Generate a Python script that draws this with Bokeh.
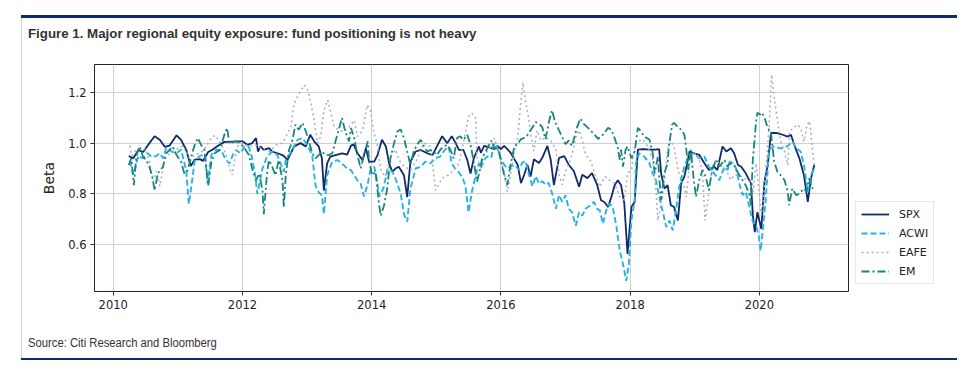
from bokeh.plotting import figure
from bokeh.models import Legend, LegendItem, FixedTicker, Range1d, PrintfTickFormatter, Div
from bokeh.layouts import column
from bokeh.embed import file_html
from bokeh.resources import INLINE

# ---------------- data ----------------
spx_x = [2010.24, 2010.31, 2010.39, 2010.46, 2010.54, 2010.64, 2010.72, 2010.80, 2010.87, 2010.98,
         2011.05, 2011.13, 2011.20, 2011.26, 2011.34, 2011.39, 2011.47, 2011.54, 2011.62, 2011.72,
         2011.80, 2011.90, 2012.00, 2012.08, 2012.15, 2012.21, 2012.24, 2012.28, 2012.33, 2012.41,
         2012.46, 2012.54, 2012.62, 2012.70, 2012.80, 2012.90, 2012.98, 2013.05, 2013.11, 2013.18,
         2013.23, 2013.26, 2013.31, 2013.36, 2013.44, 2013.54, 2013.62, 2013.68, 2013.72, 2013.78,
         2013.86, 2013.91, 2013.96, 2014.04, 2014.09, 2014.16, 2014.22, 2014.27, 2014.32, 2014.37,
         2014.42, 2014.50, 2014.55, 2014.60, 2014.68, 2014.76, 2014.86, 2014.94, 2015.01, 2015.09,
         2015.17, 2015.24, 2015.30, 2015.35, 2015.42, 2015.48, 2015.53, 2015.58, 2015.66, 2015.69,
         2015.74, 2015.82, 2015.90, 2015.95, 2016.00, 2016.05, 2016.10, 2016.15, 2016.21, 2016.26,
         2016.31, 2016.36, 2016.41, 2016.46, 2016.51, 2016.59, 2016.64, 2016.72, 2016.77, 2016.82,
         2016.90, 2016.98, 2017.05, 2017.13, 2017.21, 2017.26, 2017.34, 2017.41, 2017.49, 2017.55,
         2017.60, 2017.66, 2017.71, 2017.76, 2017.81, 2017.86, 2017.91, 2017.96, 2018.02, 2018.07,
         2018.12, 2018.20, 2018.30, 2018.40, 2018.45, 2018.48, 2018.53, 2018.58, 2018.63, 2018.68,
         2018.74, 2018.79, 2018.84, 2018.92, 2018.99, 2019.07, 2019.15, 2019.22, 2019.30, 2019.35,
         2019.43, 2019.49, 2019.56, 2019.61, 2019.67, 2019.72, 2019.79, 2019.87, 2019.90, 2019.93,
         2019.97, 2020.03, 2020.08, 2020.13, 2020.18, 2020.26, 2020.36, 2020.44, 2020.49, 2020.54,
         2020.62, 2020.69, 2020.75, 2020.80, 2020.85]
spx_y = [0.949, 0.940, 0.973, 0.964, 0.993, 1.027, 1.013, 0.985, 0.990, 1.031,
         1.013, 0.973, 0.910, 0.935, 0.937, 0.930, 0.965, 0.975, 0.990, 1.005,
         1.005, 1.007, 1.007, 0.993, 1.000, 1.020, 0.967, 0.987, 0.973, 0.980,
         0.967, 0.960, 0.953, 0.935, 0.987, 1.000, 0.987, 1.033, 1.007, 0.987,
         0.940, 0.813, 0.920, 0.947, 0.953, 0.960, 0.955, 0.990, 0.995, 0.960,
         0.933, 0.980, 0.927, 0.927, 0.953, 1.013, 0.987, 0.920, 0.887, 0.900,
         0.907, 0.873, 0.787, 0.927, 0.967, 0.973, 0.960, 0.953, 0.987, 1.027,
         1.000, 1.027, 1.000, 0.973, 0.973, 0.933, 0.880, 0.940, 0.987, 0.962,
         0.989, 0.983, 0.976, 0.989, 0.976, 0.989, 0.976, 0.962, 0.936, 0.915,
         0.842, 0.875, 0.915, 0.868, 0.936, 0.922, 0.942, 0.989, 0.936, 0.835,
         0.942, 0.949, 0.915, 0.889, 0.828, 0.875, 0.862, 0.882, 0.835, 0.775,
         0.768, 0.748, 0.788, 0.834, 0.854, 0.834, 0.762, 0.563, 0.748, 0.768,
         0.974, 0.976, 0.974, 0.974, 0.976, 0.881, 0.821, 0.834, 0.755, 0.748,
         0.695, 0.841, 0.868, 0.967, 0.960, 0.954, 0.921, 0.894, 0.907, 0.894,
         0.987, 0.967, 0.980, 0.960, 0.914, 0.907, 0.881, 0.841, 0.715, 0.649,
         0.728, 0.662, 0.848, 0.914, 1.040, 1.040, 1.033, 1.026, 1.033, 0.993,
         0.940, 0.874, 0.768, 0.861, 0.914]

acwi_x = [2010.26, 2010.31, 2010.39, 2010.46, 2010.54, 2010.59, 2010.67, 2010.72, 2010.77, 2010.82,
          2010.90, 2010.98, 2011.05, 2011.13, 2011.17, 2011.21, 2011.26, 2011.34, 2011.42, 2011.46,
          2011.52, 2011.60, 2011.68, 2011.74, 2011.80, 2011.85, 2011.90, 2011.97, 2012.03, 2012.10,
          2012.15, 2012.20, 2012.23, 2012.31, 2012.38, 2012.46, 2012.54, 2012.59, 2012.64, 2012.67,
          2012.72, 2012.77, 2012.85, 2012.93, 2013.00, 2013.08, 2013.13, 2013.18, 2013.23, 2013.26,
          2013.31, 2013.39, 2013.47, 2013.54, 2013.62, 2013.68, 2013.73, 2013.78, 2013.83, 2013.88,
          2013.94, 2013.98, 2014.04, 2014.09, 2014.12, 2014.18, 2014.25, 2014.32, 2014.37, 2014.45,
          2014.50, 2014.55, 2014.60, 2014.68, 2014.76, 2014.83, 2014.91, 2014.98, 2015.06, 2015.13,
          2015.19, 2015.24, 2015.29, 2015.34, 2015.40, 2015.45, 2015.50, 2015.55, 2015.61, 2015.66,
          2015.69, 2015.74, 2015.79, 2015.85, 2015.90, 2015.95, 2016.00, 2016.05, 2016.10, 2016.15,
          2016.21, 2016.28, 2016.33, 2016.38, 2016.44, 2016.49, 2016.54, 2016.59, 2016.64, 2016.69,
          2016.74, 2016.80, 2016.85, 2016.90, 2016.95, 2017.00, 2017.05, 2017.10, 2017.16, 2017.21,
          2017.26, 2017.31, 2017.39, 2017.44, 2017.49, 2017.53, 2017.58, 2017.63, 2017.68, 2017.73,
          2017.79, 2017.84, 2017.89, 2017.94, 2017.98, 2018.02, 2018.07, 2018.09, 2018.14, 2018.22,
          2018.30, 2018.35, 2018.40, 2018.45, 2018.50, 2018.56, 2018.61, 2018.66, 2018.71, 2018.76,
          2018.84, 2018.91, 2018.99, 2019.07, 2019.15, 2019.22, 2019.30, 2019.38, 2019.46, 2019.51,
          2019.54, 2019.59, 2019.64, 2019.69, 2019.74, 2019.79, 2019.85, 2019.90, 2019.95, 2019.99,
          2020.02, 2020.05, 2020.10, 2020.15, 2020.23, 2020.31, 2020.39, 2020.46, 2020.51, 2020.57,
          2020.64, 2020.69, 2020.75, 2020.80, 2020.85]
acwi_y = [0.930, 0.875, 0.950, 0.940, 0.960, 0.945, 0.950, 0.960, 0.940, 0.980,
          0.967, 0.960, 0.975, 0.890, 0.760, 0.830, 0.930, 0.950, 0.955, 0.840,
          0.955, 0.975, 0.967, 0.935, 0.920, 0.953, 0.973, 0.960, 0.987, 0.985,
          0.940, 0.870, 0.800, 0.900, 0.947, 0.967, 0.953, 0.920, 0.887, 0.933,
          0.953, 0.973, 1.013, 1.020, 0.993, 0.953, 0.833, 0.807, 0.793, 0.720,
          0.873, 0.927, 0.933, 0.920, 0.900, 0.893, 0.873, 0.853, 0.840, 0.790,
          0.840, 0.893, 0.907, 0.840, 0.790, 0.820, 0.900, 0.887, 0.860, 0.800,
          0.720, 0.690, 0.820, 0.900, 0.907, 0.927, 0.920, 0.940, 0.947, 0.973,
          0.987, 0.920, 0.900, 0.887, 0.867, 0.833, 0.727, 0.807, 0.873, 0.920,
          0.900, 0.935, 0.948, 0.942, 1.000, 0.975, 0.940, 0.915, 0.900, 0.908,
          0.915, 0.895, 0.922, 0.930, 0.870, 0.830, 0.870, 0.840, 0.850, 0.836,
          0.843, 0.796, 0.741, 0.795, 0.768, 0.795, 0.741, 0.728, 0.674, 0.728,
          0.714, 0.741, 0.755, 0.768, 0.741, 0.735, 0.682, 0.735, 0.762, 0.748,
          0.669, 0.576, 0.523, 0.457, 0.523, 0.695, 0.775, 0.920, 0.960, 0.947,
          0.920, 0.881, 0.854, 0.788, 0.735, 0.669, 0.695, 0.656, 0.735, 0.828,
          0.907, 0.954, 0.960, 0.940, 0.947, 0.907, 0.881, 0.854, 0.907, 0.894,
          0.927, 0.920, 0.900, 0.841, 0.795, 0.808, 0.742, 0.689, 0.675, 0.636,
          0.576, 0.649, 0.781, 0.974, 0.987, 0.980, 0.980, 0.993, 1.007, 0.980,
          0.967, 0.914, 0.808, 0.874, 0.900]

eafe_x = [2010.26, 2010.29, 2010.34, 2010.41, 2010.49, 2010.56, 2010.62, 2010.67, 2010.72, 2010.80,
          2010.88, 2010.98, 2011.08, 2011.18, 2011.28, 2011.40, 2011.53, 2011.58, 2011.66, 2011.74,
          2011.79, 2011.84, 2011.92, 2012.00, 2012.10, 2012.21, 2012.31, 2012.42, 2012.52, 2012.62,
          2012.75, 2012.80, 2012.88, 2012.96, 2013.01, 2013.06, 2013.11, 2013.16, 2013.21, 2013.26,
          2013.32, 2013.37, 2013.42, 2013.50, 2013.57, 2013.65, 2013.73, 2013.78, 2013.86, 2013.93,
          2013.98, 2014.03, 2014.09, 2014.14, 2014.21, 2014.29, 2014.37, 2014.42, 2014.50, 2014.60,
          2014.70, 2014.76, 2014.81, 2014.91, 2014.99, 2015.04, 2015.12, 2015.19, 2015.27, 2015.35,
          2015.42, 2015.50, 2015.55, 2015.61, 2015.63, 2015.69, 2015.74, 2015.82, 2015.90, 2015.95,
          2016.00, 2016.05, 2016.10, 2016.15, 2016.21, 2016.26, 2016.31, 2016.34, 2016.38, 2016.42,
          2016.46, 2016.51, 2016.56, 2016.62, 2016.69, 2016.77, 2016.85, 2016.90, 2016.95, 2017.00,
          2017.05, 2017.10, 2017.16, 2017.21, 2017.26, 2017.31, 2017.39, 2017.46, 2017.53, 2017.61,
          2017.68, 2017.76, 2017.84, 2017.91, 2017.96, 2018.02, 2018.07, 2018.12, 2018.20, 2018.27,
          2018.35, 2018.40, 2018.43, 2018.48, 2018.53, 2018.58, 2018.63, 2018.68, 2018.74, 2018.79,
          2018.84, 2018.87, 2018.91, 2018.96, 2019.02, 2019.07, 2019.12, 2019.16, 2019.21, 2019.27,
          2019.33, 2019.38, 2019.46, 2019.51, 2019.56, 2019.61, 2019.69, 2019.77, 2019.85, 2019.90,
          2019.95, 2020.00, 2020.03, 2020.06, 2020.10, 2020.15, 2020.19, 2020.23, 2020.28, 2020.33,
          2020.39, 2020.44, 2020.47, 2020.52, 2020.59, 2020.64, 2020.69, 2020.74, 2020.78, 2020.82,
          2020.85]
eafe_y = [0.990, 0.950, 0.970, 0.940, 0.980, 0.930, 0.850, 0.890, 0.830, 0.940,
          0.960, 0.975, 0.990, 0.940, 0.955, 0.970, 1.025, 1.030, 1.000, 0.960,
          0.910, 0.874, 0.987, 1.000, 0.987, 0.993, 0.974, 0.967, 0.993, 1.000,
          1.064, 1.157, 1.197, 1.229, 1.210, 1.157, 1.090, 1.000, 1.026, 1.130,
          1.170, 1.117, 1.064, 1.050, 1.045, 1.064, 1.090, 1.026, 1.050, 1.150,
          1.130, 1.050, 0.987, 0.895, 0.868, 0.947, 0.974, 0.934, 0.908, 0.895,
          0.934, 0.974, 1.000, 0.987, 0.814, 0.840, 0.868, 0.874, 0.895, 0.920,
          1.000, 1.105, 1.118, 1.100, 0.940, 0.900, 0.955, 0.975, 1.020, 0.980,
          0.930, 0.888, 0.808, 0.875, 0.969, 1.020, 1.168, 1.238, 1.168, 1.114,
          1.036, 0.969, 1.050, 1.010, 1.023, 1.010, 0.976, 0.876, 0.836, 0.889,
          0.915, 0.956, 1.023, 1.050, 1.010, 0.956, 0.929, 0.875, 0.828, 0.868,
          0.854, 0.841, 0.788, 0.775, 0.881, 0.894, 0.987, 1.007, 1.013, 0.987,
          0.934, 0.815, 0.695, 0.762, 0.854, 0.974, 1.007, 0.987, 0.894, 0.854,
          0.828, 0.788, 0.894, 0.947, 0.960, 0.934, 0.881, 0.695, 0.788, 0.907,
          0.934, 0.920, 0.894, 0.881, 0.855, 0.874, 0.874, 0.861, 0.848, 0.800,
          0.920, 0.800, 0.715, 0.760, 0.900, 1.060, 1.270, 1.180, 1.090, 1.007,
          0.967, 0.914, 1.046, 1.060, 1.073, 1.060, 1.007, 1.073, 1.086, 0.980,
          0.914]

em_x = [2010.24, 2010.28, 2010.32, 2010.36, 2010.41, 2010.46, 2010.51, 2010.56, 2010.61, 2010.64,
        2010.69, 2010.77, 2010.82, 2010.87, 2010.92, 2010.98, 2011.05, 2011.10, 2011.15, 2011.20,
        2011.26, 2011.31, 2011.36, 2011.41, 2011.47, 2011.52, 2011.57, 2011.65, 2011.72, 2011.76,
        2011.80, 2011.90, 2011.97, 2012.03, 2012.10, 2012.15, 2012.21, 2012.26, 2012.31, 2012.33,
        2012.38, 2012.41, 2012.46, 2012.51, 2012.56, 2012.62, 2012.64, 2012.67, 2012.72, 2012.77,
        2012.82, 2012.87, 2012.93, 2012.98, 2013.03, 2013.08, 2013.13, 2013.18, 2013.23, 2013.28,
        2013.34, 2013.39, 2013.44, 2013.49, 2013.54, 2013.59, 2013.65, 2013.68, 2013.73, 2013.78,
        2013.83, 2013.88, 2013.94, 2013.96, 2014.01, 2014.06, 2014.11, 2014.14, 2014.19, 2014.24,
        2014.29, 2014.34, 2014.40, 2014.45, 2014.50, 2014.55, 2014.60, 2014.65, 2014.70, 2014.76,
        2014.81, 2014.86, 2014.91, 2014.96, 2015.01, 2015.06, 2015.11, 2015.17, 2015.22, 2015.27,
        2015.32, 2015.37, 2015.42, 2015.48, 2015.53, 2015.58, 2015.63, 2015.67, 2015.71, 2015.77,
        2015.85, 2015.90, 2015.95, 2016.00, 2016.05, 2016.10, 2016.15, 2016.21, 2016.26, 2016.31,
        2016.39, 2016.44, 2016.49, 2016.54, 2016.59, 2016.64, 2016.69, 2016.75, 2016.79, 2016.84,
        2016.90, 2016.95, 2017.00, 2017.05, 2017.10, 2017.18, 2017.23, 2017.28, 2017.36, 2017.44,
        2017.51, 2017.53, 2017.58, 2017.66, 2017.71, 2017.76, 2017.81, 2017.84, 2017.86, 2017.89,
        2017.93, 2017.96, 2018.02, 2018.07, 2018.12, 2018.17, 2018.22, 2018.30, 2018.35, 2018.38,
        2018.43, 2018.45, 2018.48, 2018.53, 2018.58, 2018.60, 2018.65, 2018.68, 2018.73, 2018.79,
        2018.84, 2018.87, 2018.90, 2018.94, 2018.98, 2019.02, 2019.07, 2019.12, 2019.17, 2019.22,
        2019.27, 2019.33, 2019.38, 2019.46, 2019.51, 2019.54, 2019.61, 2019.66, 2019.72, 2019.79,
        2019.85, 2019.87, 2019.90, 2019.92, 2019.95, 2019.97, 2020.01, 2020.04, 2020.08, 2020.13,
        2020.18, 2020.23, 2020.28, 2020.33, 2020.39, 2020.44, 2020.46, 2020.51, 2020.57, 2020.62,
        2020.69, 2020.73, 2020.77, 2020.82, 2020.85]
em_y = [0.913, 0.940, 0.834, 0.953, 0.987, 0.947, 0.933, 0.907, 0.860, 0.813,
        0.880, 0.907, 0.960, 0.973, 0.987, 0.953, 0.927, 0.880, 0.893, 0.940,
        0.993, 1.020, 0.993, 0.973, 0.833, 0.927, 0.960, 0.973, 1.033, 1.060,
        1.000, 1.007, 1.000, 0.980, 0.953, 0.900, 0.853, 0.880, 0.813, 0.720,
        0.880, 0.933, 0.907, 0.873, 0.933, 0.853, 0.747, 0.873, 0.973, 1.007,
        1.073, 1.053, 1.080, 1.047, 1.007, 0.960, 0.940, 0.953, 0.967, 0.953,
        0.953, 0.960, 1.007, 1.053, 1.100, 1.047, 1.007, 1.060, 1.020, 0.953,
        0.900, 0.953, 1.007, 0.927, 0.873, 0.887, 0.767, 0.713, 0.753, 0.820,
        0.940, 0.993, 1.047, 1.053, 1.020, 0.967, 0.913, 0.967, 0.993, 1.013,
        0.987, 0.967, 0.973, 0.967, 0.953, 0.973, 0.987, 0.993, 0.973, 0.940,
        1.020, 1.027, 1.013, 1.033, 0.993, 0.927, 0.848, 0.888, 0.942, 0.970,
        1.010, 0.976, 0.990, 0.930, 0.875, 0.835, 0.915, 0.989, 0.996, 1.016,
        1.023, 1.043, 1.063, 1.083, 1.077, 1.063, 1.016, 1.090, 1.130, 1.083,
        1.050, 1.023, 0.996, 1.010, 0.989, 1.063, 1.097, 1.077, 1.057, 1.036,
        1.016, 1.026, 1.033, 1.060, 1.053, 1.020, 0.980, 0.934, 0.974, 0.907,
        0.974, 0.987, 0.940, 0.967, 1.060, 1.046, 1.026, 1.013, 0.960, 0.881,
        0.947, 0.868, 0.775, 0.881, 0.921, 0.987, 1.073, 1.080, 1.066, 1.053,
        1.033, 0.974, 0.894, 0.974, 0.868, 0.788, 0.854, 0.894, 0.868, 0.815,
        0.894, 0.934, 0.907, 0.934, 0.907, 0.920, 0.914, 0.887, 0.861, 0.834,
        0.795, 0.755, 0.940, 0.993, 1.086, 1.120, 1.113, 1.120, 1.100, 1.060,
        1.040, 0.927, 0.887, 0.874, 0.854, 0.808, 0.755, 0.821, 0.795, 0.801,
        0.821, 0.808, 0.861, 0.821, 0.834]

series_names = ["SPX", "ACWI", "EAFE", "EM"]
x_ticks = [2010, 2012, 2014, 2016, 2018, 2020]
y_ticks = [0.6, 0.8, 1.0, 1.2]

title_text = "Figure 1. Major regional equity exposure: fund positioning is not heavy"
source_text = "Source: Citi Research and Bloomberg"

# ---------------- figure ----------------
p = figure(frame_width=754, frame_height=227, output_backend="svg", toolbar_location=None,
           x_range=Range1d(2009.71, 2021.38), y_range=Range1d(0.415, 1.31),
           min_border_left=72, min_border_right=109, min_border_top=4, min_border_bottom=27,
           margin=0)
p.background_fill_color = "white"
p.border_fill_color = "white"
p.outline_line_color = "#222222"
p.outline_line_width = 1

for ax in (p.xaxis[0], p.yaxis[0]):
    ax.axis_line_color = None
    ax.major_tick_line_color = "#333333"
    ax.major_tick_out = 4
    ax.major_tick_in = 0
    ax.minor_tick_line_color = None
    ax.major_label_text_font = "DejaVu Sans"
    ax.major_label_text_font_size = "11.5px"
    ax.major_label_text_color = "#222222"
    ax.major_label_standoff = 4

p.xaxis.ticker = FixedTicker(ticks=x_ticks)
p.yaxis.ticker = FixedTicker(ticks=y_ticks)
p.yaxis.formatter = PrintfTickFormatter(format="%.1f")
p.yaxis.axis_label = "Beta"
p.yaxis.axis_label_text_font = "DejaVu Sans"
p.yaxis.axis_label_text_font_size = "14px"
p.yaxis.axis_label_text_font_style = "normal"
p.yaxis.axis_label_text_color = "#222222"
p.yaxis.axis_label_standoff = 8

p.xgrid.grid_line_color = "#d0d0d0"
p.ygrid.grid_line_color = "#d0d0d0"
p.xgrid.grid_line_width = 1
p.ygrid.grid_line_width = 1

r_spx = p.line(spx_x, spx_y, line_color="#10296b", line_width=1.8)
r_acwi = p.line(acwi_x, acwi_y, line_color="#27b4e4", line_width=1.9, line_dash="6 3")
r_eafe = p.line(eafe_x, eafe_y, line_color="#a9aebf", line_width=1.5, line_dash="2 3")
r_em = p.line(em_x, em_y, line_color="#17857e", line_width=1.8, line_dash="8 3 2 3")

legend = Legend(items=[LegendItem(label=n, renderers=[r]) for n, r in
                       zip(series_names, [r_spx, r_acwi, r_eafe, r_em])],
                location="bottom_left", margin=7, padding=5, spacing=5,
                glyph_width=28, glyph_height=14, label_standoff=10,
                label_text_font="DejaVu Sans", label_text_font_size="11px",
                label_text_color="#222222",
                border_line_color="#d0d0d0", border_line_width=1,
                background_fill_color="white", background_fill_alpha=1)
p.add_layout(legend, "right")

NAVY = "#0b2d6e"

def rule_svg(h):
    return ('<svg width="936" height="%d" style="display:block; margin-left:-1px;" '
            'xmlns="http://www.w3.org/2000/svg"><rect x="0" y="0" width="936" height="%d" '
            'fill="%s"/></svg>' % (h, h, NAVY))

top_div = Div(
    text=(rule_svg(3) +
          '<div style="font-family: \'Liberation Sans\', Arial, sans-serif; font-weight: bold; '
          'font-size: 13.3px; line-height: 16px; color: #333333; white-space: nowrap; '
          'padding: 8px 0 0 6px;">' + title_text + '</div>'),
    width=935, height=45, margin=0)

bottom_div = Div(
    text=('<div style="font-family: \'Liberation Sans Narrow\', \'Liberation Sans\', Arial, sans-serif; '
          'font-size: 12.5px; line-height: 14px; color: #333333; white-space: nowrap; '
          'padding: 18px 0 8px 6px;"><span style="display:inline-block; transform: scaleX(0.9); '
          'transform-origin: left;">' + source_text + '</span></div>' + rule_svg(2)),
    width=935, height=42, margin=0)

page = column(top_div, p, bottom_div, spacing=0, margin=0,
              styles={"margin-left": "21px", "margin-top": "15px",
                      "border-left": "1px solid #d4d4d4"})

open("out.html", "w").write(file_html(page, INLINE))
